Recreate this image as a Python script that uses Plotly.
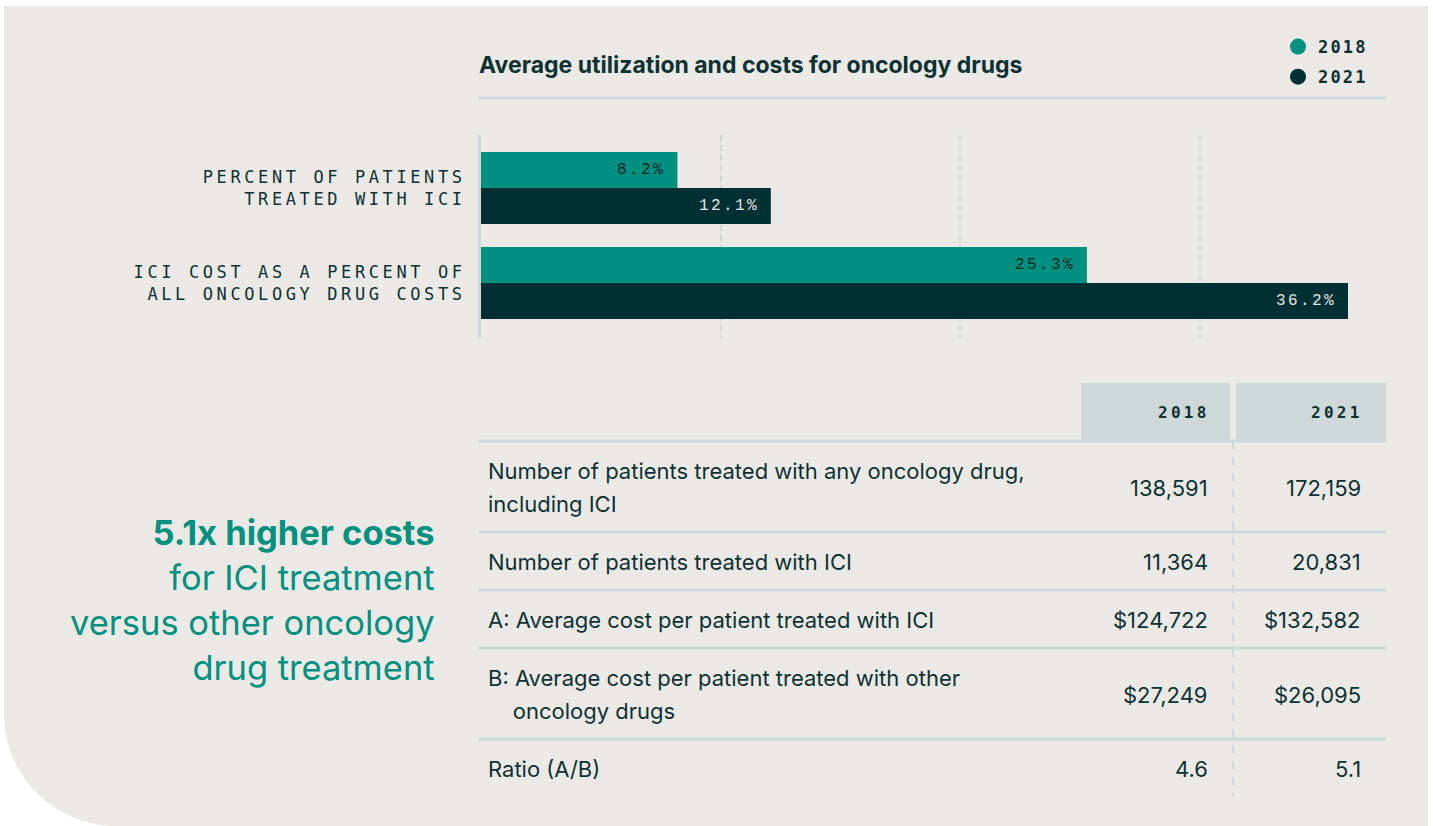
import plotly.graph_objects as go

# ---------------- data ----------------
bar_categories = ["PERCENT OF PATIENTS\nTREATED WITH ICI",
                  "ICI COST AS A PERCENT OF\nALL ONCOLOGY DRUG COSTS"]
pct_2018 = [8.2, 25.3]
pct_2021 = [12.1, 36.2]
years = ["2018", "2021"]

chart_title = "Average utilization and costs for oncology drugs"

table_labels = [
    "Number of patients treated with any oncology drug,\nincluding ICI",
    "Number of patients treated with ICI",
    "A: Average cost per patient treated with ICI",
    "B: Average cost per patient treated with other\n    oncology drugs",
    "Ratio (A/B)",
]
table_2018 = ["138,591", "11,364", "$124,722", "$27,249", "4.6"]
table_2021 = ["172,159", "20,831", "$132,582", "$26,095", "5.1"]

callout_bold = "5.1x higher costs"
callout_rest = ["for ICI treatment", "versus other oncology", "drug treatment"]

# ---------------- style ----------------
W, H = 1433, 826
BG = "#ebe9e5"
TEAL = "#00907f"
DARK = "#003033"
INK = "#0e3133"
RULE = "#cfd8d9"
MONO = "Liberation Mono, DejaVu Sans Mono, monospace"
MONO_B = "DejaVu Sans Mono, Liberation Mono, monospace"
SANS = "Inter, Roboto, sans-serif"


def X(p):
    return p / W


def Y(p):
    return 1 - p / H


def spaced(t, ls):
    return '<span style="letter-spacing:%spx">%s</span>' % (ls, t)


fig = go.Figure()

# bars
fig.add_trace(go.Bar(y=bar_categories, x=pct_2018, orientation="h", name=years[0],
                     marker=dict(color=TEAL, line=dict(width=0)), showlegend=False,
                     hoverinfo="skip"))
fig.add_trace(go.Bar(y=bar_categories, x=pct_2021, orientation="h", name=years[1],
                     marker=dict(color=DARK, line=dict(width=0)), showlegend=False,
                     hoverinfo="skip"))

# legend entries
for yr, col in zip(years, [TEAL, DARK]):
    fig.add_trace(go.Scatter(x=[None], y=[None], mode="markers",
                             name="<b>%s</b>" % spaced(yr, 2.2), legendgroup=yr,
                             marker=dict(size=18, color=col, symbol="circle"),
                             showlegend=True))

annotations = []
shapes = []

# bar value labels
for vals, shift, col in [(pct_2018, 18, "#0b2426"), (pct_2021, -18, "#e4e6e4")]:
    for cat, v in zip(bar_categories, vals):
        annotations.append(dict(x=v, y=cat, xref="x", yref="y", xanchor="right",
                                yanchor="middle", xshift=-10, yshift=shift,
                                text=spaced("%.1f%%" % v, 2.4), showarrow=False,
                                font=dict(family=MONO, size=16, color=col)))

# background panel with rounded bottom-left corner
r = 112
path = ("M {x0},{y0} L {x1},{y0} L {x1},{y2} L {xr},{y2} "
        "C {xc1},{y2} {x0},{yc2} {x0},{yr} Z").format(
    x0=X(4), y0=Y(6), x1=X(1428), y2=Y(826), xr=X(4 + r), yr=Y(826 - r),
    xc1=X(4 + r * 0.45), yc2=Y(826 - r * 0.45))
shapes.append(dict(type="path", path=path, xref="paper", yref="paper",
                   fillcolor=BG, line=dict(width=0), layer="below"))

# title and rule
annotations.append(dict(x=X(477), y=Y(65), xref="paper", yref="paper", xanchor="left",
                        yanchor="middle", text="<b>%s</b>" % chart_title, showarrow=False,
                        font=dict(family=SANS, size=23, color=INK)))
shapes.append(dict(type="line", xref="paper", yref="paper", x0=X(479), x1=X(1386),
                   y0=Y(98), y1=Y(98), line=dict(color=RULE, width=3)))

# ---------------- table ----------------
TL, TR = 479, 1386
C1L, C1R = 1081, 1230
C2L, C2R = 1236, 1386
HEAD_TOP, HEAD_BOT = 383, 441
V1_RIGHT, V2_RIGHT = 1210, 1363
LINE_PITCH = 33
TFS = 22

for x0, x1 in [(C1L, C1R), (C2L, C2R)]:
    shapes.append(dict(type="rect", xref="paper", yref="paper", x0=X(x0), x1=X(x1),
                       y0=Y(HEAD_BOT), y1=Y(HEAD_TOP), fillcolor=RULE,
                       line=dict(width=0), layer="below"))
for yr, xr in zip(years, [V1_RIGHT, V2_RIGHT]):
    annotations.append(dict(x=X(xr + 2), y=Y((HEAD_TOP + HEAD_BOT) / 2), xref="paper",
                            yref="paper", xanchor="right", yanchor="middle",
                            text="<b>%s</b>" % spaced(yr, 3.3), showarrow=False,
                            font=dict(family=MONO_B, size=16, color=INK)))

top = HEAD_BOT
boundaries = [top]
for i, lab in enumerate(table_labels):
    lines = lab.split("\n")
    hgt = 58 if len(lines) == 1 else 91
    bot = top + hgt
    cy = (top + bot) / 2 + 1
    for j, ln in enumerate(lines):
        ly = cy + (j - (len(lines) - 1) / 2) * LINE_PITCH
        annotations.append(dict(x=X(486), y=Y(ly), xref="paper", yref="paper",
                                xanchor="left", yanchor="middle",
                                text=ln.replace(" ", "\u00a0") if ln.startswith(" ") else ln,
                                showarrow=False,
                                font=dict(family=SANS, size=TFS, color=INK)))
    for val, xr in [(table_2018[i], V1_RIGHT), (table_2021[i], V2_RIGHT)]:
        annotations.append(dict(x=X(xr), y=Y(cy), xref="paper", yref="paper",
                                xanchor="right", yanchor="middle", text=val,
                                showarrow=False, font=dict(family=SANS, size=TFS, color=INK)))
    top = bot
    boundaries.append(bot)

for b in boundaries[:-1]:
    shapes.append(dict(type="line", xref="paper", yref="paper", x0=X(TL), x1=X(TR),
                       y0=Y(b), y1=Y(b), line=dict(color=RULE, width=3)))
shapes.append(dict(type="line", xref="paper", yref="paper", x0=X(1233), x1=X(1233),
                   y0=Y(HEAD_BOT), y1=Y(boundaries[-1]),
                   line=dict(color=RULE, width=2, dash="8px,8px")))

# callout text
callout = "<b>%s</b><br>%s" % (callout_bold, "<br>".join(callout_rest))
annotations.append(dict(x=X(437), y=Y(600), xref="paper", yref="paper", xanchor="right",
                        yanchor="middle", align="right", text=callout, showarrow=False,
                        font=dict(family=SANS, size=34.5, color=TEAL)))

PPU = 23.95  # pixels per percent
fig.update_layout(
    width=W, height=H, margin=dict(l=0, r=0, t=0, b=0),
    paper_bgcolor="white", plot_bgcolor="rgba(0,0,0,0)",
    barmode="group", bargap=0.242, bargroupgap=0,
    xaxis=dict(domain=[X(481), X(1386)], range=[0, (1386 - 481) / PPU],
               tickvals=[10, 20, 30], showticklabels=False, showgrid=True,
               gridcolor=RULE, gridwidth=2, griddash="6px,4px", zeroline=False,
               showline=False, fixedrange=True),
    yaxis=dict(domain=[Y(338), Y(135)], range=[1 + 55 / 95, -53 / 95],
               type="category", categoryarray=bar_categories,
               tickvals=bar_categories,
               ticktext=[spaced(c.replace("\n", "<br>"), 3.6) for c in bar_categories],
               tickfont=dict(family=MONO_B, size=17, color=INK),
               showline=True, linecolor=RULE, linewidth=3, showgrid=False,
               zeroline=False, ticks="", ticklabelstandoff=9, fixedrange=True),
    legend=dict(x=X(1278), y=Y(29), xanchor="left", yanchor="top",
                bgcolor="rgba(0,0,0,0)", font=dict(family=MONO_B, size=17, color=INK),
                itemclick=False, itemdoubleclick=False, tracegroupgap=5),
    annotations=annotations, shapes=shapes,
)

fig.write_html("out.html", config={"displayModeBar": False},
               post_script="document.body.style.margin='0';")
